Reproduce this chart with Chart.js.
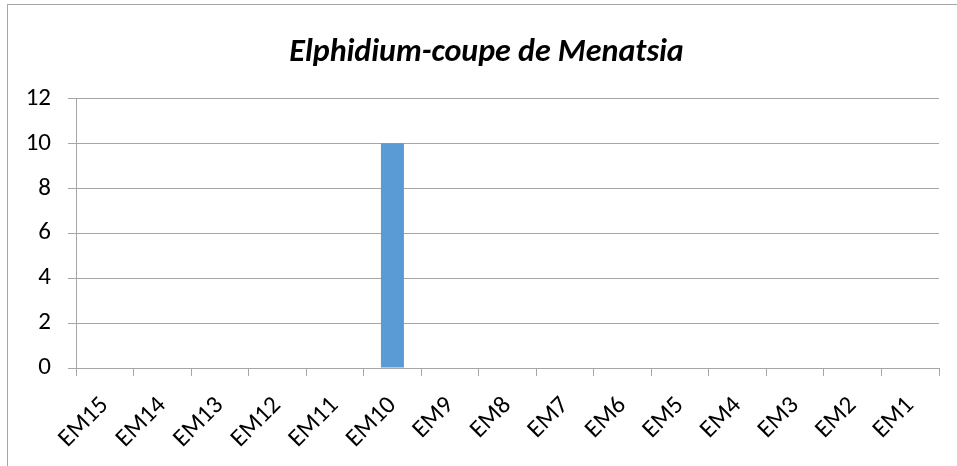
<!DOCTYPE html>
<html>
<head>
<meta charset="utf-8">
<script src="https://cdn.jsdelivr.net/npm/chart.js@4"></script>
<style>
  body { margin: 0; background: #fff; }
  #frame { position: absolute; left: 7px; top: 4px; width: 1000px; height: 500px; border: 1px solid #a6a6a6; }
  #wrap { position: absolute; left: 0; top: 0; width: 957px; height: 466px; }
</style>
</head>
<body>
<div id="frame"></div>
<div id="wrap"><canvas id="myChart" width="957" height="466"></canvas></div>
<script>
// sample labels and counts
const categories = ['EM15', 'EM14', 'EM13', 'EM12', 'EM11', 'EM10', 'EM9', 'EM8', 'EM7', 'EM6', 'EM5', 'EM4', 'EM3', 'EM2', 'EM1']
const counts = [0, 0, 0, 0, 0, 10, 0, 0, 0, 0, 0, 0, 0, 0, 0]
const yTicks = [0, 2, 4, 6, 8, 10, 12]

const fontFam = "Carlito, 'Liberation Sans', sans-serif"
const grey = '#a6a6a6'

// title sits a bit right of the canvas centre in the original
const titleShift = {
  id: 'titleShift',
  afterLayout: function (chart) {
    if (chart.titleBlock) chart.titleBlock.left += 34
  }
}

const ctx = document.getElementById('myChart').getContext('2d')
new Chart(ctx, {
  type: 'bar',
  data: {
    labels: categories,
    datasets: [{
      label: 'Elphidium',
      data: counts,
      backgroundColor: '#5b9bd5',
      categoryPercentage: 1,
      barPercentage: 0.4
    }]
  },
  options: {
    responsive: false,
    animation: false,
    layout: { padding: { left: 0, right: 18, top: 0, bottom: 0 } },
    plugins: {
      legend: { display: false },
      tooltip: { enabled: false },
      title: {
        display: true,
        text: 'Elphidium-coupe de Menatsia',
        color: '#000',
        font: { family: fontFam, size: 32, weight: 'bold', style: 'italic' },
        padding: { top: 34, bottom: 26 }
      }
    },
    scales: {
      x: {
        grid: { display: true, offset: true, drawOnChartArea: false, color: grey, tickLength: 8 },
        border: { color: grey },
        ticks: {
          color: '#000',
          font: { family: fontFam, size: 25 },
          minRotation: 45,
          maxRotation: 45,
          padding: 15
        },
        afterFit: function (scale) { scale.height = 98 }
      },
      y: {
        min: 0,
        max: 12,
        afterBuildTicks: function (scale) { scale.ticks = yTicks.map(v => ({ value: v })) },
        grid: { color: grey, tickLength: 8 },
        border: { color: grey },
        ticks: {
          color: '#000',
          font: { family: fontFam, size: 25 },
          padding: 17
        },
        afterFit: function (scale) { scale.width = 76 }
      }
    }
  },
  plugins: [titleShift]
})
</script>
</body>
</html>
